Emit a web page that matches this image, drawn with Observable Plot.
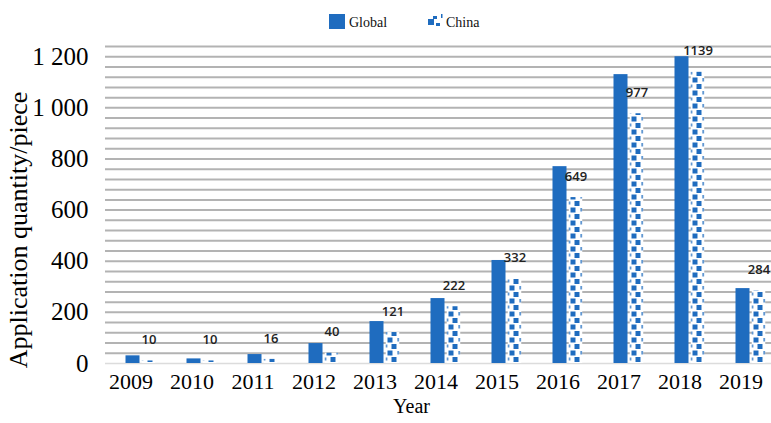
<!DOCTYPE html>
<html><head><meta charset="utf-8">
<script src="https://cdn.jsdelivr.net/npm/d3@7"></script>
<script src="https://cdn.jsdelivr.net/npm/@observablehq/plot@0.6"></script>
<style>
body{margin:0;background:#fff;}
#legend{position:relative;height:34px;width:771px;font-family:"Liberation Serif",serif;font-size:14px;color:#111;}
#legend .sw{position:absolute;display:block;}
#legend .lt{position:absolute;line-height:14px;white-space:nowrap;}
#chart svg{display:block;}
</style></head><body>
<div id="legend">
  <span class="sw" style="left:329px;top:14px;width:16px;height:15px;background:#1f6cbf"></span>
  <span class="lt" style="left:349px;top:16px">Global</span>
  <svg class="sw" style="left:427px;top:13px" width="17" height="16">
    <rect x="0" y="0" width="17" height="16" fill="#fff"/>
    <rect x="1" y="6" width="6" height="6" fill="#1f6cbf"/>
    <rect x="6" y="3" width="4" height="3" fill="#1f6cbf"/>
    <rect x="9" y="10" width="4" height="3" fill="#1f6cbf"/>
    <rect x="14" y="1" width="1.5" height="4" fill="#1f6cbf"/>
  </svg>
  <span class="lt" style="left:446px;top:16px">China</span>
</div>
<div id="chart"></div>
<script>
const years = [2009, 2010, 2011, 2012, 2013, 2014, 2015, 2016, 2017, 2018, 2019];
const globalValues = [30, 18, 35, 78, 164, 254, 403, 770, 1130, 1200, 293];
const chinaValues = [10, 10, 16, 40, 121, 222, 332, 649, 977, 1139, 284];
const yTicks = [0, 200, 400, 600, 800, 1000, 1200];
const yTickLabels = ["0", "200", "400", "600", "800", "1 000", "1 200"];
const gridValues = [40,80,120,160,200,240,280,320,360,400,440,480,520,560,600,640,680,720,760,800,840,880,920,960,1000,1040,1080,1120,1160,1200,1240];

const blue = "#1f6cbf";
const data = years.map((y, i) => ({year: y, global: globalValues[i], china: chinaValues[i]}));

const plot = Plot.plot({
  width: 771, height: 389,
  marginTop: 12, marginBottom: 60, marginLeft: 105, marginRight: 0,
  style: {background: "transparent", fontFamily: "Liberation Serif", color: "#000"},
  x: {type: "band", domain: years, range: [110, 781], padding: 0, round: false, label: null},
  y: {domain: [0, 1240], label: null},
  marks: [
    Plot.ruleY(gridValues, {stroke: "#b3b3b3", strokeWidth: 2}),
    Plot.ruleY([0], {stroke: "#dcdcdc", strokeWidth: 1.5}),
    Plot.barY(data, {x: "year", y: "global", fill: blue, insetLeft: 15.5, insetRight: 31.5}),
    Plot.barY(data, {x: "year", y: "china", fill: "url(#cnPattern)", insetLeft: 31.5, insetRight: 15.5}),
    Plot.text(data, {x: "year", y: "china", text: d => String(d.china), dx: 8, dy: -21,
      fontFamily: "Open Sans", fontWeight: 600, fontSize: 13, fill: "#222"}),
    Plot.axisY({ticks: yTicks, tickSize: 0, tickPadding: 17, fontSize: 25, label: null,
      tickFormat: d => yTickLabels[yTicks.indexOf(d)]}),
    Plot.axisX({tickSize: 0, tickPadding: 10, fontSize: 22, dx: -10, label: null, tickFormat: d => String(d)}),
    Plot.text(["Application quantity/piece"], {text: d => d, frameAnchor: "left", textAnchor: "middle",
      rotate: -90, dx: -87, dy: 25, fontSize: 26}),
    Plot.text(["Year"], {text: d => d, frameAnchor: "bottom", dx: -27, dy: 49, fontSize: 20})
  ]
});

const xs = plot.scale("x");
const ys = plot.scale("y");
const chinaLeft = xs.apply(years[0]) + 31.5;
const tileW = xs.step || xs.bandwidth;
const tileH = 13;
const ns = "http://www.w3.org/2000/svg";
const defs = document.createElementNS(ns, "defs");
defs.innerHTML = `<pattern id="cnPattern" patternUnits="userSpaceOnUse" x="${chinaLeft}" y="${ys.apply(0) % tileH}" width="${tileW}" height="${tileH}">
  <rect x="0" y="0" width="14" height="${tileH}" fill="#fff"/>
  <rect x="2" y="0.5" width="5" height="5" fill="${blue}"/>
  <rect x="6" y="7" width="5" height="5" fill="${blue}"/>
  <rect x="12" y="1" width="1.4" height="3.5" fill="${blue}"/>
  <rect x="0.2" y="7.5" width="1.4" height="3" fill="${blue}"/>
</pattern>`;
plot.insertBefore(defs, plot.firstChild);
document.getElementById("chart").appendChild(plot);
</script>
</body></html>
